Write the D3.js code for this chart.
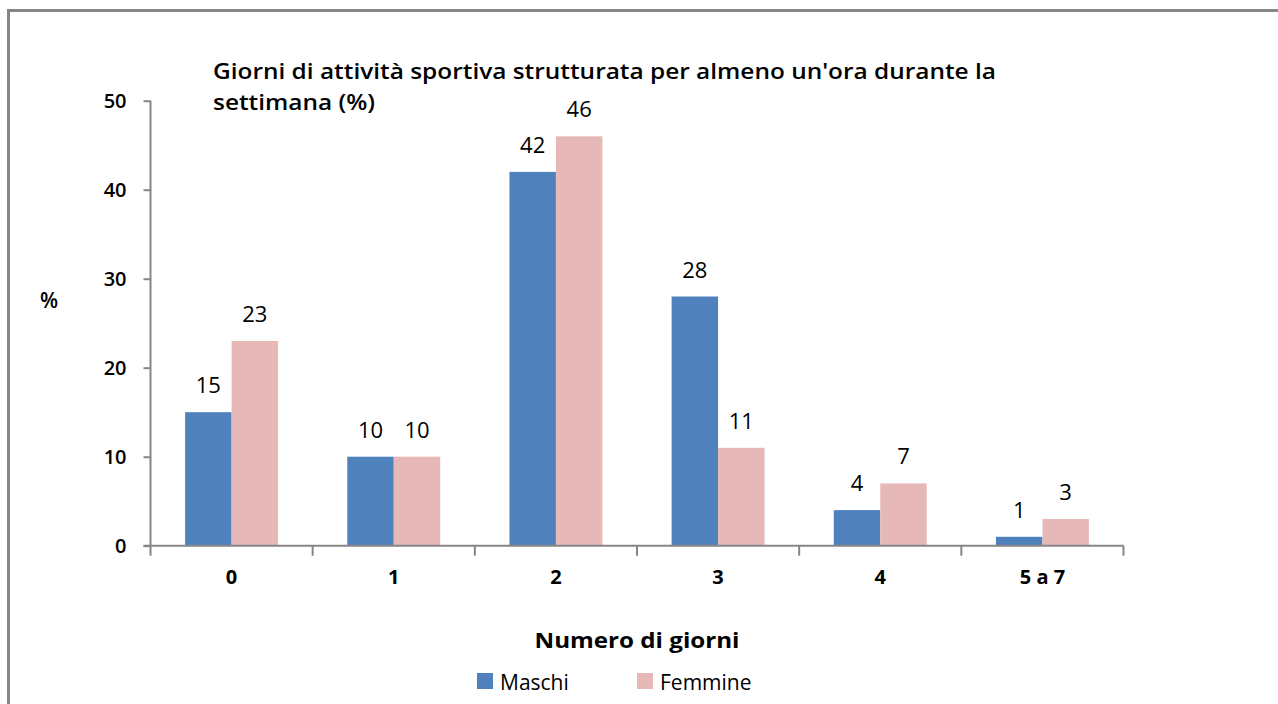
<!DOCTYPE html>
<html>
<head>
<meta charset="UTF-8">
<title>Giorni di attività sportiva</title>
<script src="https://cdn.jsdelivr.net/npm/d3@7"></script>
<style>
  body { margin: 0; background: #fff; }
  text { font-family: "Open Sans", Lato, sans-serif; fill: #000; }
</style>
</head>
<body>
<svg width="1278" height="704"></svg>
<script>
// dati
var categorie = ["0", "1", "2", "3", "4", "5 a 7"];
var serie = ["Maschi", "Femmine"];
var maschi = [15, 10, 42, 28, 4, 1];
var femmine = [23, 10, 46, 11, 7, 3];
var colori = ["#4f81bd", "#e6b9b8"];
var yTicks = [0, 10, 20, 30, 40, 50];

var svg = d3.select("svg");

// cornice grigia
svg.append("rect")
  .attr("x", 8.5).attr("y", 10.5)
  .attr("width", 1300).attr("height", 720)
  .attr("fill", "none").attr("stroke", "#868686").attr("stroke-width", 3);

var mLeft = 150.5, mRight = 1123.5, mTop = 100.7, mBottom = 545.7;

var x0 = d3.scaleBand().domain(categorie).range([mLeft, mRight]).padding(0);
var x1 = d3.scaleBand().domain(serie).range([0, x0.bandwidth()]).paddingInner(0).paddingOuter(0.745);
var y = d3.scaleLinear().domain([0, 50]).range([mBottom, mTop]);

// asse y
var gy = svg.append("g").attr("transform", "translate(" + mLeft + ",0)")
  .call(d3.axisLeft(y).tickValues(yTicks).tickSize(7).tickPadding(17));
gy.select(".domain").attr("stroke", "#868686").attr("stroke-width", 2).attr("d", "M0," + y(50) + "V" + y(0));
gy.selectAll(".tick line").attr("stroke", "#868686").attr("stroke-width", 2);
gy.selectAll(".tick text").style("font-size", "20px").style("font-weight", "600").attr("dy", "0.35em");

// barre
var dati = categorie.map(function (c, i) { return { cat: c, valori: [maschi[i], femmine[i]] }; });
var gruppi = svg.selectAll(".gruppo").data(dati).enter().append("g")
  .attr("transform", function (d) { return "translate(" + x0(d.cat) + ",0)"; });

gruppi.selectAll("rect").data(function (d) { return d.valori.map(function (v, j) { return { s: serie[j], v: v, j: j }; }); })
  .enter().append("rect")
  .attr("x", function (d) { return x1(d.s); })
  .attr("y", function (d) { return y(d.v); })
  .attr("width", x1.bandwidth())
  .attr("height", function (d) { return y(0) - y(d.v); })
  .attr("fill", function (d) { return colori[d.j]; });

gruppi.selectAll(".val").data(function (d) { return d.valori.map(function (v, j) { return { s: serie[j], v: v }; }); })
  .enter().append("text")
  .attr("x", function (d) { return x1(d.s) + x1.bandwidth() / 2; })
  .attr("y", function (d) { return y(d.v) - 19; })
  .attr("text-anchor", "middle")
  .style("font-size", "22px").style("font-weight", "400")
  .text(function (d) { return d.v; });

// asse x
var gx = svg.append("g").attr("transform", "translate(0," + mBottom + ")")
  .call(d3.axisBottom(x0).tickSize(0).tickPadding(24));
gx.select(".domain").attr("stroke", "#868686").attr("stroke-width", 2).attr("d", "M" + (mLeft - 7) + ",0H" + mRight);
gx.selectAll(".tick text").style("font-size", "20px").style("font-weight", "700");
svg.append("g").selectAll("line").data(categorie.concat(["fine"])).enter().append("line")
  .attr("x1", function (d, i) { return mLeft + i * x0.step(); })
  .attr("x2", function (d, i) { return mLeft + i * x0.step(); })
  .attr("y1", mBottom).attr("y2", mBottom + 10)
  .attr("stroke", "#868686").attr("stroke-width", 2);

// titolo
var titolo = svg.append("text").attr("x", 213).attr("y", 79)
  .style("font-size", "21px").style("font-weight", "600");
titolo.append("tspan").attr("x", 213).attr("textLength", 783).attr("lengthAdjust", "spacingAndGlyphs")
  .text("Giorni di attività sportiva strutturata per almeno un'ora durante la");
titolo.append("tspan").attr("x", 213).attr("dy", 31).attr("textLength", 162).attr("lengthAdjust", "spacingAndGlyphs")
  .text("settimana (%)");

// etichette assi
svg.append("text").attr("x", 49).attr("y", 308).attr("text-anchor", "middle")
  .style("font-size", "21px").style("font-weight", "600").text("%");
svg.append("text").attr("x", 637).attr("y", 648).attr("text-anchor", "middle")
  .attr("textLength", 205).attr("lengthAdjust", "spacingAndGlyphs")
  .style("font-size", "21px").style("font-weight", "700").text("Numero di giorni");

// legenda
var legX = [477, 637];
var leg = svg.selectAll(".leg").data(serie).enter().append("g")
  .attr("transform", function (d, i) { return "translate(" + legX[i] + ",673)"; });
leg.append("rect").attr("width", 16).attr("height", 16).attr("fill", function (d, i) { return colori[i]; });
leg.append("text").attr("x", 23).attr("y", 17).style("font-size", "21px").text(function (d) { return d; });
</script>
</body>
</html>
